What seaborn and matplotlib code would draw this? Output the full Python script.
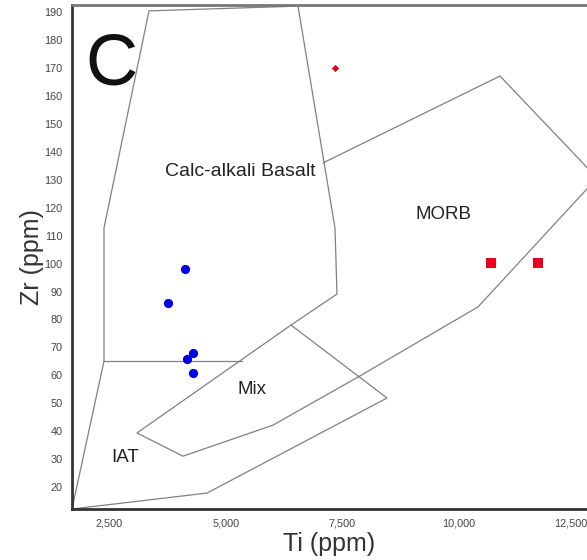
import matplotlib
matplotlib.use("Agg")
import matplotlib.pyplot as plt
from matplotlib.ticker import FuncFormatter
from matplotlib.transforms import ScaledTranslation
import seaborn as sns
import pandas as pd

# Field boundaries of the Ti-Zr discrimination diagram (Ti ppm, Zr ppm)
calc_alkali_ti = [2393, 2393, 3357, 6549, 7341, 7384, 6399]
calc_alkali_zr = [65.1, 112.7, 190.4, 192.1, 112.7, 89.1, 78.0]

mix_ti = [6399, 3100, 4086, 6013, 7834]
mix_zr = [78.0, 39.4, 31.1, 42.2, 59.4]

morb_ti = [7834, 10405, 12954, 10876, 7084]
morb_zr = [59.4, 84.5, 130.6, 167.1, 136.0]

iat_ti = [2393, 1708, 4600, 8455, 6399]
iat_zr = [65.1, 12.2, 17.9, 51.9, 78.0]

divider_ti = [2393, 5349]
divider_zr = [65.1, 65.1]

# Samples
blue_ti = [4128, 3764, 4300, 4171, 4290]
blue_zr = [98.1, 85.9, 68.0, 65.8, 60.7]

red_sq_ti = [10683, 11690]
red_sq_zr = [100.2, 100.2]

red_pt_ti = [7341]
red_pt_zr = [170.0]

# Axis ticks
x_ticks = [2500, 5000, 7500, 10000, 12500]
y_ticks = list(range(20, 200, 10))

sns.set_style("white")
plt.rcParams["font.family"] = ["Liberation Sans", "DejaVu Sans"]

fig = plt.figure(figsize=(5.87, 5.60), dpi=100)
ax = fig.add_axes([72 / 587, 51 / 560, 515 / 587, 504 / 560])

line_kw = dict(color="#808080", lw=0.9, solid_joinstyle="miter")
for xs, ys in [(calc_alkali_ti, calc_alkali_zr), (mix_ti, mix_zr),
               (morb_ti, morb_zr), (iat_ti, iat_zr),
               (divider_ti, divider_zr)]:
    ax.plot(xs, ys, **line_kw)

blue = pd.DataFrame({"Ti": blue_ti, "Zr": blue_zr})
squares = pd.DataFrame({"Ti": red_sq_ti, "Zr": red_sq_zr})
single = pd.DataFrame({"Ti": red_pt_ti, "Zr": red_pt_zr})

sns.scatterplot(data=blue, x="Ti", y="Zr", ax=ax, color="#0000e0",
                marker="o", s=44, linewidth=0, zorder=3)
sns.scatterplot(data=squares, x="Ti", y="Zr", ax=ax, color="#e8001c",
                marker="s", s=44, linewidth=0, zorder=3)
sns.scatterplot(data=single, x="Ti", y="Zr", ax=ax, color="#e8001c",
                marker="D", s=14, linewidth=0, zorder=3)

ax.set_xlim(1708, 12739)
ax.set_ylim(12.2, 192.5)
ax.set_xticks(x_ticks)
ax.set_yticks(y_ticks)
ax.xaxis.set_major_formatter(FuncFormatter(lambda v, p: f"{int(v):,}"))
ax.tick_params(axis="both", length=0, labelsize=7.8, labelcolor="#444444")
ax.tick_params(axis="y", pad=7)
ax.tick_params(axis="x", pad=7)

# keep the last Ti label inside the figure edge
last = ax.get_xticklabels()[-1]
last.set_transform(last.get_transform() + ScaledTranslation(-4 / 72, 0, fig.dpi_scale_trans))

for side in ["left", "bottom"]:
    ax.spines[side].set_color("#333333")
    ax.spines[side].set_linewidth(2.0)
ax.spines["top"].set_color("#777777")
ax.spines["top"].set_linewidth(2.0)
ax.spines["right"].set_visible(False)

ax.set_xlabel("Ti (ppm)", fontsize=18, color="#333333", labelpad=2)
ax.set_ylabel("Zr (ppm)", fontsize=18, color="#333333", labelpad=0)

ax.text(2543, 170.6, "C", fontsize=52, ha="center", va="center", color="#111111")
ax.text(5307, 132.8, "Calc-alkali Basalt", fontsize=14, ha="center", va="center", color="#222222")
ax.text(9676, 117.4, "MORB", fontsize=13.5, ha="center", va="center", color="#222222")
ax.text(5564, 54.8, "Mix", fontsize=13.5, ha="center", va="center", color="#222222")
ax.text(2854, 30.8, "IAT", fontsize=13.5, ha="center", va="center", color="#222222")

fig.savefig("out.png", dpi=100)
